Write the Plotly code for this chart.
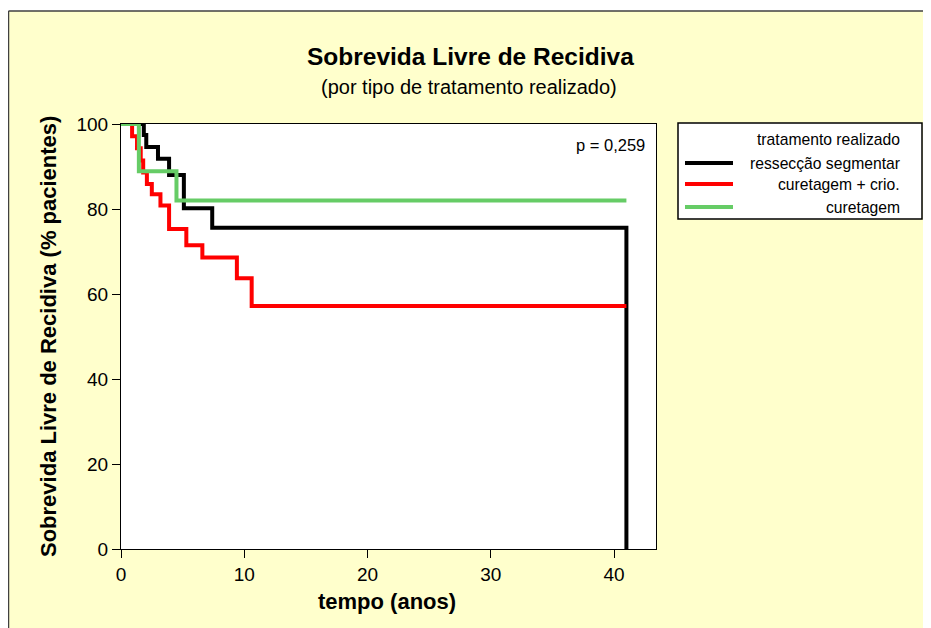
import plotly.graph_objects as go

# Kaplan-Meier steps (tempo em anos, % livre de recidiva)
ressec_t = [0, 1.85, 2.05, 3.0, 3.9, 5.1, 7.4, 41.0]
ressec_s = [100, 97.4, 94.6, 91.8, 88.0, 80.2, 75.6, 0]

crio_t = [0, 0.9, 1.3, 1.6, 1.8, 2.1, 2.5, 3.2, 3.9, 5.3, 6.6, 9.4, 10.6, 41.0]
crio_s = [100, 97.1, 94.3, 91.4, 88.6, 85.9, 83.5, 80.8, 75.3, 71.5, 68.6, 63.7, 57.2, 57.2]

curet_t = [0, 1.45, 4.5, 41.0]
curet_s = [100, 88.9, 82.0, 82.0]

series = [
    ("ressecção segmentar", ressec_t, ressec_s, "#000000"),
    ("curetagem + crio.", crio_t, crio_s, "#FF0000"),
    ("curetagem", curet_t, curet_s, "#66CC66"),
]

FONT = "Liberation Sans, Arial, sans-serif"
YELLOW = "#FFFFCC"

fig = go.Figure()
for name, t, s, col in series:
    fig.add_trace(go.Scatter(x=t, y=s, mode="lines", name=name,
                             line=dict(color=col, width=4, shape="hv"),
                             showlegend=False))

# plot area in page pixels: x 121..656, y 124..549 (page has an 8px body margin)
OFF = 8
L, R, T, B = 121, 656, 124, 549
W, H = R - L, B - T
px = lambda x: (x - L) / W
py = lambda y: (B - y) / H

shapes = [
    # white strip above the yellow frame
    dict(type="rect", xref="paper", yref="paper", x0=-1, x1=2, y0=py(11), y1=2,
         fillcolor="white", line_width=0, layer="below"),
    dict(type="line", xref="paper", yref="paper", x0=px(OFF + 0.5), x1=2, y0=py(11), y1=py(11),
         line=dict(color="#404040", width=1.5)),
    dict(type="line", xref="paper", yref="paper", x0=px(OFF + 0.5), x1=px(OFF + 0.5), y0=-1, y1=py(11),
         line=dict(color="#404040", width=1.5)),
    # legend box
    dict(type="rect", xref="paper", yref="paper", x0=px(678), x1=px(922),
         y0=py(219), y1=py(123), fillcolor="white", line=dict(color="black", width=1.5)),
]

annotations = [
    dict(text="<b>Sobrevida Livre de Recidiva</b>", x=px(470), y=py(57),
         font=dict(size=24.5, family=FONT, color="black")),
    dict(text="(por tipo de tratamento realizado)", x=px(469), y=py(87),
         font=dict(size=20, family=FONT, color="black")),
    dict(text="<b>Sobrevida Livre de Recidiva (% pacientes)</b>", x=px(48), y=py(337),
         textangle=-90, font=dict(size=22, family=FONT, color="black")),
    dict(text="<b>tempo (anos)</b>", x=px(387), y=py(601),
         font=dict(size=22, family=FONT, color="black")),
    dict(text="p = 0,259", x=px(647), y=py(145), xanchor="right",
         font=dict(size=16.5, family=FONT, color="black")),
    dict(text="tratamento realizado", x=px(902), y=py(140), xanchor="right",
         font=dict(size=15.7, family=FONT, color="black")),
]
for i, (name, t, s, col) in enumerate(series):
    yy = [163, 184, 207][i]
    shapes.append(dict(type="line", xref="paper", yref="paper", x0=px(685), x1=px(733),
                       y0=py(yy), y1=py(yy), line=dict(color=col, width=4)))
    annotations.append(dict(text=name, x=px(902), y=py(yy), xanchor="right",
                            font=dict(size=15.7, family=FONT, color="black")))
for a in annotations:
    a.update(xref="paper", yref="paper", showarrow=False)
    a.setdefault("xanchor", "center")
    a.setdefault("yanchor", "middle")

fig.update_layout(
    width=931 - OFF, height=628 - OFF,
    margin=dict(l=L - OFF, r=931 - R, t=T - OFF, b=628 - B),
    paper_bgcolor=YELLOW, plot_bgcolor="white",
    font=dict(family=FONT, size=19, color="black"),
    shapes=shapes, annotations=annotations,
    showlegend=False,
)
fig.update_xaxes(range=[0, 43.4], tickvals=[0, 10, 20, 30, 40], showgrid=False,
                 zeroline=False, showline=True, linecolor="black", linewidth=1,
                 mirror=True, ticks="outside", ticklen=8, tickcolor="black")
fig.update_yaxes(range=[0, 100], tickvals=[0, 20, 40, 60, 80, 100], showgrid=False,
                 zeroline=False, showline=True, linecolor="black", linewidth=1,
                 mirror=True, ticks="outside", ticklen=8, tickcolor="black")

fig.write_html("out.html")
